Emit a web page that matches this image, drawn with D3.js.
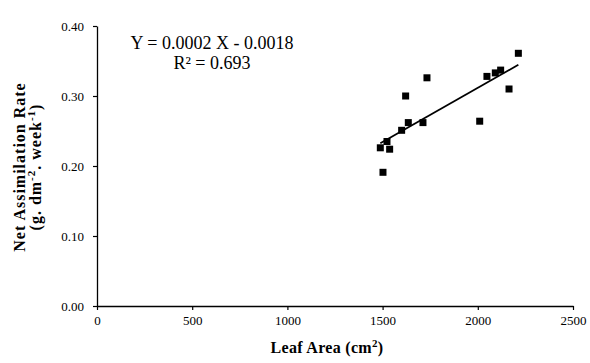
<!DOCTYPE html>
<html>
<head>
<meta charset="utf-8">
<script src="https://cdn.jsdelivr.net/npm/d3@7"></script>
<style>
  body { margin: 0; background: #fff; }
  text { font-family: "Liberation Serif", "Times New Roman", serif; fill: #000; }
</style>
</head>
<body>
<div id="chart"></div>
<script>
// leaf area (cm2) and net assimilation rate
var leafArea = [1502, 1488, 1523, 1537, 1600, 1635, 1621, 1712, 1733, 2010, 2048, 2092, 2120, 2164, 2213],
    netRate  = [0.191, 0.226, 0.235, 0.224, 0.251, 0.262, 0.300, 0.262, 0.326, 0.264, 0.328, 0.333, 0.337, 0.310, 0.361];

var xTicks = [0, 500, 1000, 1500, 2000, 2500],
    yTicks = [0, 0.1, 0.2, 0.3, 0.4];

var equationLabel = "Y = 0.0002 X - 0.0018",
    rSquaredLabel = "R² = 0.693";

var width = 590,
    height = 363,
    margin = {top: 26, right: 17, bottom: 57, left: 97};

var svg = d3.select("#chart")
    .append("svg")
    .attr("width", width)
    .attr("height", height);

var x = d3.scaleLinear().domain([0, 2500]).range([margin.left, width - margin.right]);
var y = d3.scaleLinear().domain([0, 0.4]).range([height - margin.bottom, margin.top]);

var points = leafArea.map(function(d, i) { return {x: d, y: netRate[i]}; });

// axes
var xAxis = svg.append("g")
    .attr("transform", "translate(0," + y(0) + ")")
    .call(d3.axisBottom(x).tickValues(xTicks).tickSize(4).tickSizeOuter(0).tickPadding(6)
        .tickFormat(d3.format("d")));

var yAxis = svg.append("g")
    .attr("transform", "translate(" + x(0) + ",0)")
    .call(d3.axisLeft(y).tickValues(yTicks).tickSize(4).tickSizeOuter(0).tickPadding(9)
        .tickFormat(d3.format(".2f")));

[xAxis, yAxis].forEach(function(a) {
    a.select(".domain").attr("stroke", "#000").attr("stroke-width", 1.3);
    a.selectAll(".tick line").attr("stroke", "#000").attr("stroke-width", 1.2);
    a.selectAll(".tick text")
        .style("font-family", "'Liberation Serif', serif")
        .style("font-size", "13px")
        .attr("fill", "#222");
});

// linear trend line from least squares
var mx = d3.mean(points, function(d) { return d.x; }),
    my = d3.mean(points, function(d) { return d.y; });
var slope = d3.sum(points, function(d) { return (d.x - mx) * (d.y - my); }) /
            d3.sum(points, function(d) { return (d.x - mx) * (d.x - mx); });
var intercept = my - slope * mx;
var xExt = d3.extent(leafArea);

svg.append("line")
    .attr("x1", x(xExt[0]))
    .attr("y1", y(intercept + slope * xExt[0]))
    .attr("x2", x(xExt[1]))
    .attr("y2", y(intercept + slope * xExt[1]))
    .attr("stroke", "#000")
    .attr("stroke-width", 1.8);

// square markers
var size = 7;
svg.selectAll(".pt")
    .data(points)
    .enter().append("rect")
    .attr("class", "pt")
    .attr("x", function(d) { return x(d.x) - size / 2; })
    .attr("y", function(d) { return y(d.y) - size / 2; })
    .attr("width", size)
    .attr("height", size)
    .attr("fill", "#000");

// regression equation
svg.append("text")
    .attr("x", 212).attr("y", 49)
    .attr("text-anchor", "middle")
    .style("font-size", "18px")
    .text(equationLabel);
svg.append("text")
    .attr("x", 212).attr("y", 69)
    .attr("text-anchor", "middle")
    .style("font-size", "18px")
    .text(rSquaredLabel);

// axis titles
var xt = svg.append("text")
    .attr("x", 327).attr("y", 353)
    .attr("text-anchor", "middle")
    .style("font-size", "16px")
    .style("font-weight", "bold")
    .style("letter-spacing", "0.3px");
xt.append("tspan").text("Leaf Area (cm");
xt.append("tspan").attr("dy", -6).style("font-size", "11px").text("2");
xt.append("tspan").attr("dy", 6).text(")");

var yt = svg.append("g")
    .attr("transform", "translate(25,167) rotate(-90)");
yt.append("text")
    .attr("text-anchor", "middle")
    .style("font-size", "16px")
    .style("font-weight", "bold")
    .style("letter-spacing", "1px")
    .text("Net Assimilation Rate");
var yt2 = yt.append("text")
    .attr("y", 16)
    .attr("text-anchor", "middle")
    .style("font-size", "16px")
    .style("font-weight", "bold")
    .style("letter-spacing", "1px");
yt2.append("tspan").text("(g. dm");
yt2.append("tspan").attr("dy", -6).style("font-size", "11px").text("-2");
yt2.append("tspan").attr("dy", 6).text(". week");
yt2.append("tspan").attr("dy", -6).style("font-size", "11px").text("-1");
yt2.append("tspan").attr("dy", 6).text(")");
</script>
</body>
</html>
